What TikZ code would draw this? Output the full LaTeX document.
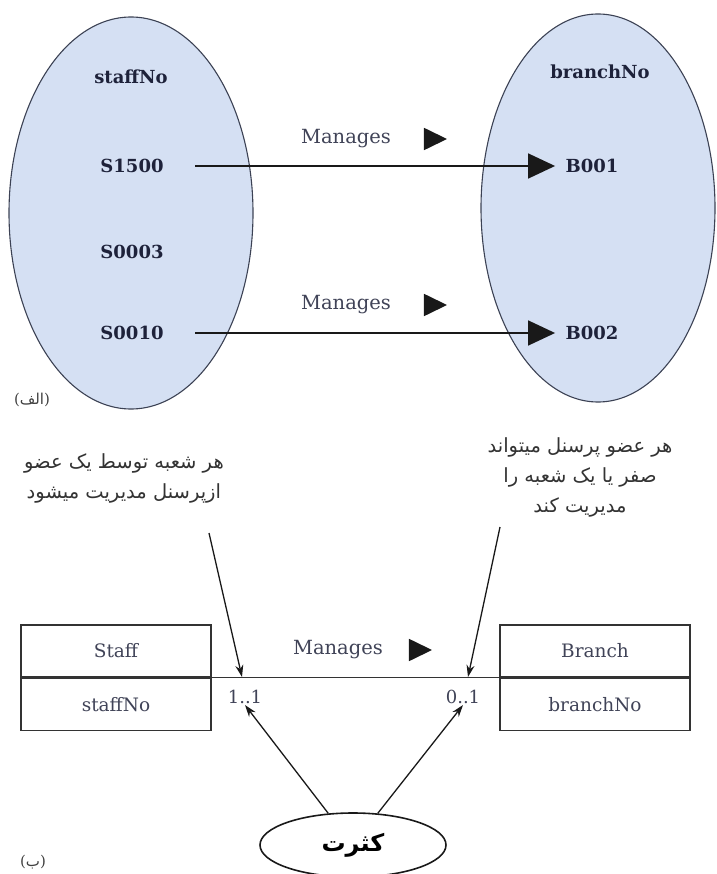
\documentclass[tikz,border=0pt]{standalone}
\usepackage{fontspec}
\setmainfont{DejaVu Serif}
\newfontfamily\farsi[Script=Arabic]{DejaVu Sans}
\TeXXeTstate=1
\usepackage{tikz}
\usetikzlibrary{positioning, calc}
\usetikzlibrary{arrows.meta}
\usetikzlibrary{shapes.geometric}
\definecolor{setfill}{RGB}{213,224,243}
\definecolor{setline}{RGB}{60,66,84}
\definecolor{inkblue}{RGB}{30,34,58}
\tikzstyle{setbox}=[ellipse,draw=setline,fill=setfill,line width=1.1pt,inner sep=0pt]
\tikzstyle{settitle}=[font=\fontsize{18}{21}\selectfont\bfseries,text=inkblue]
\tikzstyle{valtext}=[font=\fontsize{18}{21}\selectfont\bfseries,text=inkblue]
\tikzstyle{reltext}=[font=\fontsize{19.5}{23}\selectfont,text=inkblue!85]
\tikzstyle{multtext}=[font=\fontsize{18}{21}\selectfont,text=inkblue!85,inner sep=1pt]
\tikzstyle{dirmark}=[isosceles triangle,isosceles triangle apex angle=52,fill=black!90,inner sep=0pt,minimum height=23pt]
\tikzstyle{bigpath}=[-{Triangle[length=27pt,width=25pt]},line width=1.6pt,black!90]
\tikzstyle{notepath}=[-{Stealth[length=12pt,width=8pt]},line width=1.3pt,black!90]
\tikzstyle{linkpath}=[-,line width=1.1pt,black!80]
\tikzstyle{entitybox}=[draw=black!80,line width=1.1pt,minimum width=190pt,minimum height=52pt,font=\fontsize{18.5}{22}\selectfont,text=inkblue!85]
\tikzstyle{notetext}=[font=\farsi\fontsize{19.5}{30}\selectfont,align=center,inner sep=0pt,text=black!80]
\tikzstyle{multbox}=[ellipse,draw=black!90,line width=1.6pt,inner sep=0pt,minimum width=186pt,minimum height=64pt,font=\farsi\bfseries\fontsize{24}{28}\selectfont]
\tikzstyle{partlabel}=[font=\fontsize{15}{18}\selectfont,text=black!75]

\begin{document}
\begin{tikzpicture}[x=1pt,y=-1pt]
    \useasboundingbox (0,0) rectangle (716,874);

    % part (alef)
    \node[setbox, minimum width=244pt, minimum height=392pt] (staffset) at (131,213) {};
    \node[setbox, minimum width=234pt, minimum height=388pt] (branchset) at (598,208) {};

    \node[settitle] (staffno) at (131,77) {staffNo};
    \node[valtext] (s1500) at (132,166) {S1500};
    \node[valtext] (s0003) at (132,252) {S0003};
    \node[valtext] (s0010) at (132,333) {S0010};
    \node[settitle] (branchno) at (600,72) {branchNo};
    \node[valtext] (b001) at (592,166) {B001};
    \node[valtext] (b002) at (592,333) {B002};

    \node[reltext] (rel1) at (346,139) {Manages};
    \node[dirmark] (dir1) at (431,139) {};
    \node[reltext] (rel2) at (346,305) {Manages};
    \node[dirmark] (dir2) at (431,305) {};

    \path[bigpath]
        (s1500) edge[shorten <=28pt, shorten >=7pt] (b001)
        (s0010) edge[shorten <=28pt, shorten >=7pt] (b002);

    \node[partlabel] (parta) at (32,400) {(\beginR{\farsi الف}\endR)};

    % part (be)
    \node[entitybox] (staffhead) at (116,651) {Staff};
    \node[entitybox, below=0pt of staffhead] (staffkey) {staffNo};
    \node[entitybox] (branchhead) at (595,651) {Branch};
    \node[entitybox, below=0pt of branchhead] (branchkey) {branchNo};

    \path[linkpath]
        (staffhead.south east) edge (branchhead.south west);

    \node[reltext] (rel3) at (338,650) {Manages};
    \node[dirmark] (dir3) at (416,650) {};
    \node[multtext] (oneone) at (245,697) {1..1};
    \node[multtext] (zeroone) at (463,697) {0..1};
    \coordinate (lefthit) at (242,677);
    \coordinate (righthit) at (468,677);

    \node[notetext, anchor=north east] (leftnote) at (224,453)
        {\beginR هر شعبه توسط یک عضو\endR\\\beginR ازپرسنل مدیریت میشود\endR};
    \node[notetext, anchor=north] (rightnote) at (580,437)
        {\beginR هر عضو پرسنل میتواند\endR\\\beginR صفر یا یک شعبه را\endR\\\beginR مدیریت کند\endR};

    \path[notepath]
        ([shift={(-15,80)}]leftnote.north east) edge (lefthit)
        ([shift={(-80,90)}]rightnote.north) edge (righthit);

    \node[multbox] (multi) at (353,845) {\beginR کثرت\endR};
    \path[notepath]
        (multi.128) edge (oneone.south)
        (multi.52) edge (zeroone.south);

    \node[partlabel] (partb) at (33,862) {(\beginR{\farsi ب}\endR)};
\end{tikzpicture}
\end{document}
